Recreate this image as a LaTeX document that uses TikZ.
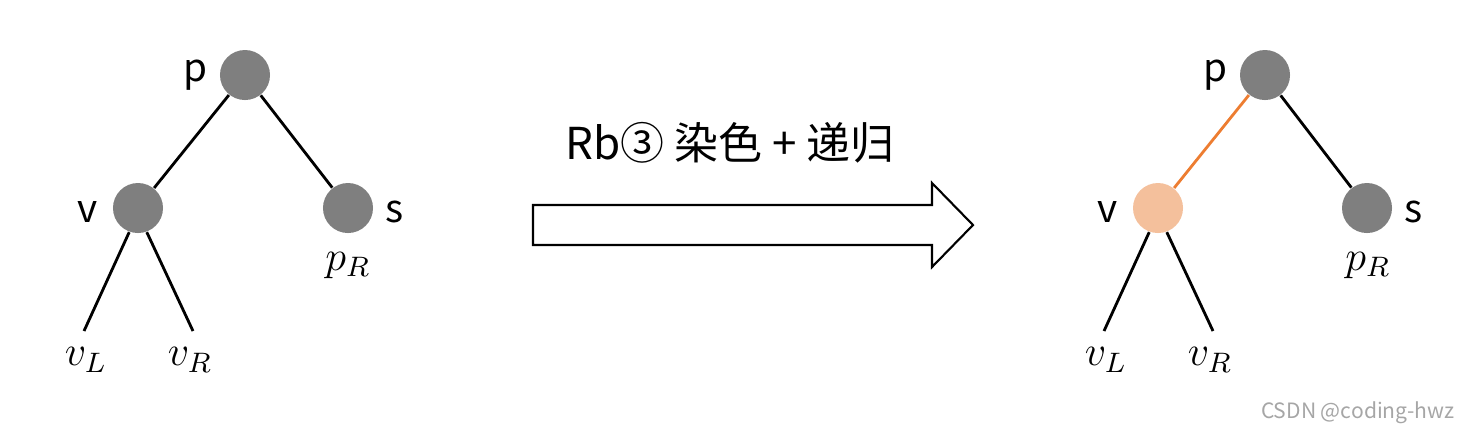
\documentclass[tikz,border=0pt]{standalone}
\usepackage{fontspec}
\setmainfont{Noto Sans CJK SC}
\begin{document}
\begin{tikzpicture}[x=0.01cm,y=-0.01cm]
\useasboundingbox (0,0) rectangle (1467,435);
\definecolor{nodegray}{HTML}{7F7F7F}
\definecolor{peach}{HTML}{F4C09C}
\definecolor{orng}{HTML}{ED7D31}
\tikzset{
  tn/.style={circle,fill=nodegray,minimum size=0.5cm,inner sep=0pt},
  pn/.style={circle,fill=peach,minimum size=0.5cm,inner sep=0pt},
  lbl/.style={font=\fontsize{11}{13}\selectfont,inner sep=0pt},
  ml/.style={font=\fontsize{12}{14}\selectfont,inner sep=0pt},
  edge/.style={line width=0.8pt,black},
}
% left tree
\node[tn] (p) at (245,75) {};
\node[tn] (v) at (138,208) {};
\node[tn] (s) at (348,208) {};
\coordinate (vl) at (84,331);
\coordinate (vr) at (193,331);
\draw[edge] (p) -- (v);
\draw[edge] (p) -- (s);
\draw[edge] (v.250) -- (vl);
\draw[edge] (v.290) -- (vr);
\node[lbl] (plab) at (195,75) {p};
\node[lbl] (vlab) at (88,212) {v};
\node[lbl] (slab) at (395,212) {s};
\node[ml] (pR) at (348,265) {$p_R$};
\node[ml] (vL) at (86,360) {$v_L$};
\node[ml] (vR) at (190,360) {$v_R$};
% arrow
\draw[line width=0.6pt] (533,205) -- (932,205) -- (932,183) -- (973,225) -- (932,267) -- (932,245) -- (533,245) -- cycle;
\node[font=\fontsize{12.5}{15}\selectfont,inner sep=0pt] (cap) at (730,143) {Rb③ 染色 + 递归};
% right tree
\node[tn] (p2) at (1265,75) {};
\node[pn] (v2) at (1158,208) {};
\node[tn] (s2) at (1367,208) {};
\coordinate (vl2) at (1104,331);
\coordinate (vr2) at (1213,331);
\draw[line width=0.8pt,orng] (p2) -- (v2);
\draw[edge] (p2) -- (s2);
\draw[edge] (v2.250) -- (vl2);
\draw[edge] (v2.290) -- (vr2);
\node[lbl] (plab2) at (1215,75) {p};
\node[lbl] (vlab2) at (1108,212) {v};
\node[lbl] (slab2) at (1414,212) {s};
\node[ml] (pR2) at (1368,265) {$p_R$};
\node[ml] (vL2) at (1106,360) {$v_L$};
\node[ml] (vR2) at (1210,360) {$v_R$};
\node[font=\fontsize{6}{7}\selectfont,text=gray!70,inner sep=0pt,anchor=east] (wm) at (1455,413) {CSDN @coding-hwz};
\end{tikzpicture}
\end{document}
